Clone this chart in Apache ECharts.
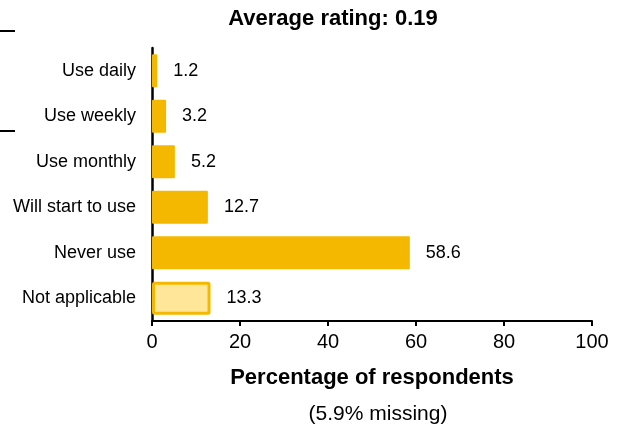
<!DOCTYPE html>
<html><head><meta charset="utf-8">
<script src="https://cdn.jsdelivr.net/npm/echarts@6/dist/echarts.min.js"></script>
<style>html,body{margin:0;padding:0;background:#fff}#c{width:619px;height:430px}</style>
</head><body><div id="c"></div>
<script>
const categories = ['Use daily','Use weekly','Use monthly','Will start to use','Never use','Not applicable'];
const values = [1.2, 3.2, 5.2, 12.7, 58.6, 13.3];
const xTicks = [0, 20, 40, 60, 80, 100];
const titleText = 'Average rating: 0.19';
const axisName = 'Percentage of respondents';
const noteText = '(5.9% missing)';

const font = 'Liberation Sans, Arial, sans-serif';
const data = values.map((v, i) => {
  if (categories[i] === 'Not applicable') {
    return { value: v, itemStyle: { color: '#FFE699', borderColor: '#F5B800', borderWidth: 3 } };
  }
  return { value: v };
});
const chart = echarts.init(document.getElementById('c'));
chart.setOption({
  animation: false,
  title: [{ text: titleText, left: 328, top: 3, textAlign: 'center',
    textStyle: { fontFamily: font, fontWeight: 'bold', fontSize: 22, color: '#000' } },
    { text: noteText, left: 373, top: 399, textAlign: 'center',
    textStyle: { fontFamily: font, fontWeight: 'normal', fontSize: 21, color: '#000' } }],
  grid: { left: 152, right: 27, top: 48, bottom: 109 },
  xAxis: {
    type: 'value', min: 0, max: 100, interval: 20,
    axisLine: { show: true, lineStyle: { color: '#000', width: 2 } },
    axisTick: { show: true, length: 5, lineStyle: { color: '#000', width: 2 } },
    splitLine: { show: false },
    axisLabel: { fontFamily: font, fontSize: 20, color: '#000', margin: 11,
      formatter: v => xTicks.includes(v) ? String(v) : '' },
    name: axisName, nameLocation: 'middle', nameGap: 46,
    nameTextStyle: { fontFamily: font, fontWeight: 'bold', fontSize: 22, color: '#000' }
  },
  yAxis: {
    type: 'category', data: categories, inverse: true,
    axisLine: { show: true, lineStyle: { color: '#000', width: 2.5 } },
    axisTick: { show: false },
    axisLabel: { fontFamily: font, fontSize: 18, color: '#000', margin: 16 }
  },
  graphic: [
    { type: 'line', shape: { x1: 0, y1: 31, x2: 15, y2: 31 }, style: { stroke: '#000', lineWidth: 2 } },
    { type: 'line', shape: { x1: 0, y1: 131, x2: 15, y2: 131 }, style: { stroke: '#000', lineWidth: 2 } }
  ],
  series: [{
    type: 'bar', data: data, barCategoryGap: '27%',
    itemStyle: { color: '#F5B800', borderRadius: 1 },
    label: { show: true, position: 'right', distance: 16, fontFamily: font, fontSize: 18, color: '#000',
      formatter: p => p.value.toFixed(1) }
  }]
});
</script></body></html>
